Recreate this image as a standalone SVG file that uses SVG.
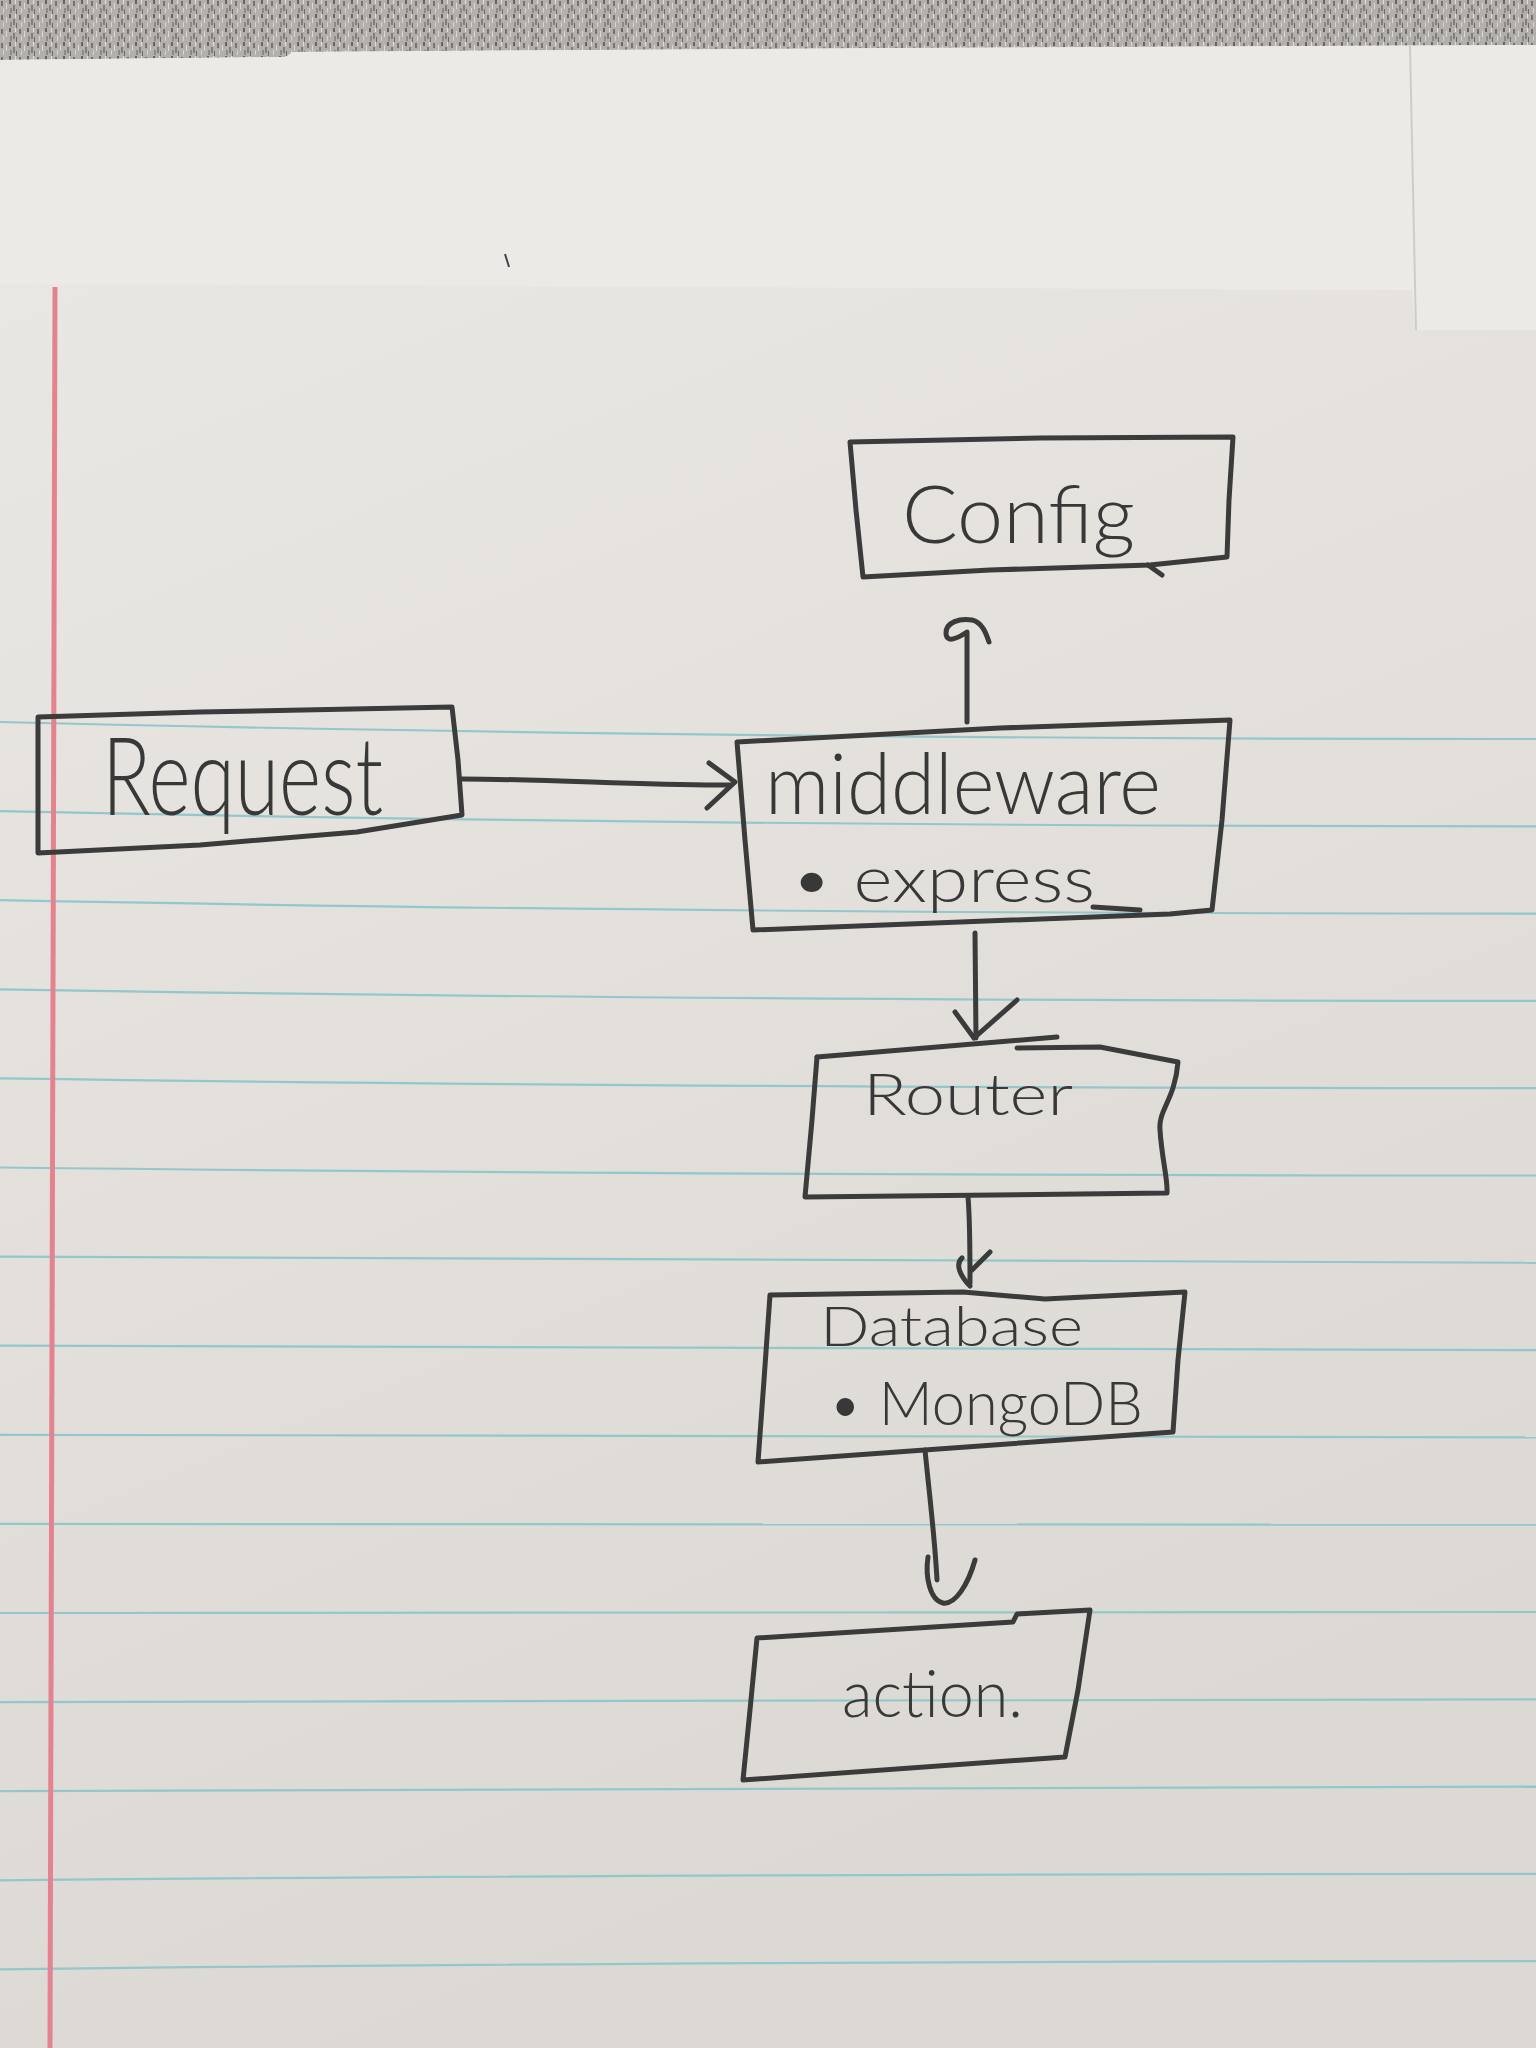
<svg xmlns="http://www.w3.org/2000/svg" width="1536" height="2048" viewBox="0 0 1536 2048">
  <defs>
    <linearGradient id="paperGrad" x1="0" y1="0" x2="0.3" y2="1">
      <stop offset="0" stop-color="#ebe9e6"/>
      <stop offset="0.5" stop-color="#e4e1dd"/>
      <stop offset="1" stop-color="#dcd8d3"/>
    </linearGradient>
    <pattern id="carpet" width="18" height="14" patternUnits="userSpaceOnUse">
      <rect width="18" height="14" fill="#b3b0ac"/>
      <rect x="1" y="1" width="2" height="5" fill="#77736f"/>
      <rect x="6" y="3" width="1" height="6" fill="#dcd9d5"/>
      <rect x="9" y="0" width="2" height="4" fill="#67635f"/>
      <rect x="13" y="5" width="2" height="6" fill="#827e7a"/>
      <rect x="3" y="8" width="1" height="5" fill="#d6d3cf"/>
      <rect x="10" y="8" width="2" height="5" fill="#8d8986"/>
      <rect x="15" y="0" width="1" height="4" fill="#e2dfdb"/>
      <rect x="16" y="9" width="1" height="5" fill="#6e6a67"/>
    </pattern>
    <style>
      .pen { fill: none; stroke: #3b3b3b; stroke-width: 5; stroke-linecap: round; stroke-linejoin: round; }
      .rule { fill: none; stroke: #93c7c9; stroke-width: 2.2; }
      .hand { font-family: Lato, "Liberation Sans", "DejaVu Sans", sans-serif; font-weight: 300; fill: #383838; }
    </style>
  </defs>

  <!-- paper and background -->
  <g id="paper">
    <rect x="0" y="0" width="1536" height="2048" fill="url(#paperGrad)"/>
    <path d="M0,0 H1536 V45 L900,48 L292,52 L286,57 L0,60 Z" fill="url(#carpet)"/>
    <path d="M0,60 L286,57 L292,52 L900,48 L1536,45 L1536,330 L1415,330 L1412,290 L0,284 Z" fill="#eceae7"/>
    <path d="M1410,46 L1416,330" stroke="#cfccc8" stroke-width="2" fill="none"/>
    <path d="M505,254 L509,267" stroke="#444" stroke-width="2" fill="none"/>
    <g id="rules">
      <path class="rule" d="M0,722 Q700,739 1536,739"/>
      <path class="rule" d="M0,811.1 Q700,826.3 1536,826.3"/>
      <path class="rule" d="M0,900.2 Q700,913.6 1536,913.6"/>
      <path class="rule" d="M0,989.3 Q700,1000.9 1536,1000.9"/>
      <path class="rule" d="M0,1078.4 Q700,1088.2 1536,1088.2"/>
      <path class="rule" d="M0,1167.5 Q700,1175.5 1536,1175.5"/>
      <path class="rule" d="M0,1256.6 Q700,1262.8 1536,1262.8"/>
      <path class="rule" d="M0,1345.7 Q700,1350.1 1536,1350.1"/>
      <path class="rule" d="M0,1434.8 Q700,1437.4 1536,1437.4"/>
      <path class="rule" d="M0,1523.9 Q700,1524.7 1536,1524.7"/>
      <path class="rule" d="M0,1613 Q700,1612 1536,1612"/>
      <path class="rule" d="M0,1702.1 Q700,1699.3 1536,1699.3"/>
      <path class="rule" d="M0,1791.2 Q700,1786.6 1536,1786.6"/>
      <path class="rule" d="M0,1880.3 Q700,1873.9 1536,1873.9"/>
      <path class="rule" d="M0,1969.4 Q700,1961.2 1536,1961.2"/>
    </g>
    <path d="M55,287 L50,2048" stroke="#e2838f" stroke-width="5" fill="none"/>
  </g>

  <!-- nodes -->
  <g id="node-config">
    <path class="pen" d="M850,442 L1040,438 L1233,437 L1229,500 L1227,557 L1150,565 L990,570 L863,577 L856,510 Z"/>
    <path class="pen" d="M1148,565 L1162,575" stroke-width="4"/>
    <text class="hand" x="902" y="543" font-size="80" textLength="233" lengthAdjust="spacingAndGlyphs">Config</text>
  </g>

  <g id="node-request">
    <path class="pen" d="M38,717 L200,712 L452,707 L458,760 L462,815 L357,832 L200,845 L38,853 Z"/>
    <text class="hand" x="102" y="815" font-size="108" textLength="281" lengthAdjust="spacingAndGlyphs">Request</text>
  </g>

  <g id="node-middleware">
    <path class="pen" d="M737,742 L1000,728 L1230,720 L1222,820 L1212,910 L1170,914 L753,930 L745,840 Z"/>
    <path class="pen" d="M1093,907 L1140,910"/>
    <text class="hand" x="765" y="814" font-size="84" textLength="396" lengthAdjust="spacingAndGlyphs">middleware</text>
    <text class="hand" x="790" y="902" font-size="66" textLength="305" lengthAdjust="spacingAndGlyphs">• express</text>
  </g>

  <g id="node-router">
    <path class="pen" d="M817,1057 L1057,1037"/>
    <path class="pen" d="M1017,1048 L1100,1047 L1178,1062 C1175,1100 1158,1110 1160,1130 C1162,1160 1168,1180 1167,1193 L805,1197 L812,1120 L817,1057"/>
    <text class="hand" x="863" y="1115" font-size="58" textLength="210" lengthAdjust="spacingAndGlyphs">Router</text>
  </g>

  <g id="node-database">
    <path class="pen" d="M770,1295 L963,1292 L1045,1299 L1185,1292 L1178,1360 L1173,1432 L758,1462 L764,1380 Z"/>
    <text class="hand" x="820" y="1346" font-size="56" textLength="263" lengthAdjust="spacingAndGlyphs">Database</text>
    <text class="hand" x="828" y="1425" font-size="62" textLength="315" lengthAdjust="spacingAndGlyphs">• MongoDB</text>
  </g>

  <g id="node-action">
    <path class="pen" d="M757,1638 L1013,1622 L1017,1614 L1090,1610 L1078,1690 L1065,1757 L743,1780 L750,1710 Z"/>
    <text class="hand" x="842" y="1717" font-size="65" textLength="181" lengthAdjust="spacingAndGlyphs">action.</text>
  </g>

  <!-- connectors -->
  <g id="connectors">
    <path class="pen" d="M462,779 C550,779 650,786 730,785"/>
    <path class="pen" d="M709,763 L735,782 L707,808"/>

    <path class="pen" d="M967,722 L967,632 C958,638 946,644 946,633 C946,622 960,618 972,620 C982,622 986,633 989,642"/>

    <path class="pen" d="M975,933 L976,1038"/>
    <path class="pen" d="M955,1012 L974,1038 L1017,1000"/>

    <path class="pen" d="M968,1197 C970,1220 970,1250 970,1283"/>
    <path class="pen" d="M962,1258 C955,1264 960,1276 970,1286 M972,1270 L990,1252"/>

    <path class="pen" d="M925,1450 C930,1500 935,1540 937,1580"/>
    <path class="pen" d="M928,1557 C925,1577 930,1600 943,1603 C955,1605 968,1585 975,1560"/>
  </g>
</svg>
